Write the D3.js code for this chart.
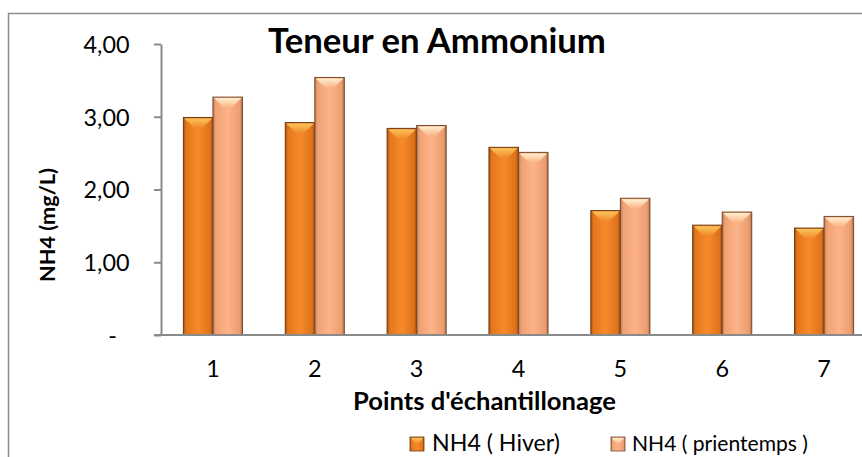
<!DOCTYPE html>
<html>
<head>
<meta charset="utf-8">
<script src="https://cdn.jsdelivr.net/npm/d3@7"></script>
<style>
  html, body { margin: 0; padding: 0; background: #fff; overflow: hidden; }
  svg { display: block; font-family: Lato, "Open Sans", sans-serif; }
</style>
</head>
<body>
<svg id="chart" width="862" height="457"></svg>
<script>
// ---- data ----
const categories = ["1", "2", "3", "4", "5", "6", "7"];
const hiver      = [2.99, 2.92, 2.84, 2.58, 1.71, 1.51, 1.47];
const printemps  = [3.27, 3.54, 2.88, 2.51, 1.88, 1.69, 1.63];
const seriesNames = ["NH4 ( Hiver)", "NH4 ( prientemps )"];
const yTicks = [0, 1, 2, 3, 4];
const titleText = "Teneur en Ammonium";
const xTitleText = "Points d'échantillonage";
const yTitleText = "NH4 (mg/L)";

const svg = d3.select("#chart");

// ---- gradients ----
const defs = svg.append("defs");
const palettes = [
  { id: "g0", stops: [["0%", "#a9520f"], ["9%", "#e4761c"], ["50%", "#f68a2a"], ["91%", "#de721b"], ["100%", "#9e4c0e"]],
    bevel: ["#fcc45a", "#f08526"], stroke: "#6e3a12" },
  { id: "g1", stops: [["0%", "#b77651"], ["9%", "#f0a173"], ["50%", "#fcb387"], ["91%", "#ec9d70"], ["100%", "#ad6f4c"]],
    bevel: ["#fff0d0", "#f9ae80"], stroke: "#7a4a2c" }
];
palettes.forEach(p => {
  const lg = defs.append("linearGradient").attr("id", p.id).attr("x1", 0).attr("x2", 1).attr("y1", 0).attr("y2", 0);
  p.stops.forEach(s => lg.append("stop").attr("offset", s[0]).attr("stop-color", s[1]));
  const bg = defs.append("linearGradient").attr("id", p.id + "b").attr("x1", 0).attr("x2", 0).attr("y1", 0).attr("y2", 1);
  bg.append("stop").attr("offset", "0%").attr("stop-color", p.bevel[0]);
  bg.append("stop").attr("offset", "100%").attr("stop-color", p.bevel[1]);
});

// ---- outer border ----
svg.append("rect").attr("x", 8.5).attr("y", 13.5).attr("width", 1000).attr("height", 1000)
  .attr("fill", "none").attr("stroke", "#8c8c8c").attr("stroke-width", 1.5);

// ---- scales ----
const x = d3.scaleBand().domain(categories).range([162, 875]).paddingInner(0.42).paddingOuter(0.21);
const xs = d3.scaleBand().domain([0, 1]).range([0, x.bandwidth()]);
const y = d3.scaleLinear().domain([0, 4]).range([335, 44]);

function fitFont(sel, target, start) {
  sel.style("font-size", start + "px");
  const w = sel.node().getComputedTextLength();
  sel.style("font-size", (start * target / w).toFixed(2) + "px");
}

// tick font size from "4,00" width
const probe = svg.append("text").text("4,00").style("font-size", "24px");
fitFont(probe, 46, 24);
const tickFont = probe.style("font-size");
probe.remove();

const fmt = v => v === 0 ? "-" : d3.format(".2f")(v).replace(".", ",");

// ---- y axis ----
const yAxis = svg.append("g").attr("transform", "translate(161,0)")
  .call(d3.axisLeft(y).tickValues(yTicks).tickFormat(fmt).tickSize(7).tickSizeOuter(0));
yAxis.select(".domain").attr("stroke", "#8a8a8a").attr("stroke-width", 2);
yAxis.selectAll(".tick line").attr("stroke", "#8a8a8a").attr("stroke-width", 2);
yAxis.selectAll(".tick text")
  .attr("x", d => d === 0 ? -44 : -31.5)
  .attr("dy", "0.36em")
  .style("font-size", tickFont).style("font-family", "Lato, sans-serif").attr("fill", "#000");

// ---- bars ----
const series = [hiver, printemps];
series.forEach((vals, si) => {
  const p = palettes[si];
  const g = svg.append("g");
  const bw = xs.bandwidth();
  g.selectAll("rect.bar").data(vals).join("rect")
    .attr("class", "bar")
    .attr("x", (d, i) => x(categories[i]) + xs(si))
    .attr("y", d => y(d))
    .attr("width", bw)
    .attr("height", d => y(0) - y(d))
    .attr("fill", `url(#${p.id})`)
    .attr("stroke", p.stroke).attr("stroke-width", 1);
  g.selectAll("polygon.bevel").data(vals).join("polygon")
    .attr("class", "bevel")
    .attr("points", (d, i) => {
      const x0 = x(categories[i]) + xs(si), y0 = y(d);
      return [[x0 + 1, y0 + 1], [x0 + bw - 1, y0 + 1], [x0 + bw * 0.62, y0 + 11], [x0 + bw * 0.38, y0 + 11]]
        .map(q => q.join(",")).join(" ");
    })
    .attr("fill", `url(#${p.id}b)`);
});

// ---- x axis ----
const xAxis = svg.append("g").attr("transform", "translate(0,335)")
  .call(d3.axisBottom(x).tickSize(0).tickSizeOuter(0));
xAxis.select(".domain").attr("d", "M154,0H870").attr("stroke", "#8a8a8a").attr("stroke-width", 2);
xAxis.selectAll(".tick text")
  .attr("y", 42).attr("dy", 0)
  .style("font-size", tickFont).style("font-family", "Lato, sans-serif").attr("fill", "#000");

// ---- titles ----
const title = svg.append("text").attr("x", 268).attr("y", 53)
  .attr("font-weight", "bold").attr("fill", "#000").text(titleText);
fitFont(title, 338, 34);

const xTitle = svg.append("text").attr("x", 353).attr("y", 410)
  .attr("font-weight", "bold").attr("fill", "#000").text(xTitleText);
fitFont(xTitle, 263, 22);

const yTitle = svg.append("text").attr("transform", "translate(55,225) rotate(-90)")
  .attr("text-anchor", "middle").attr("font-weight", "bold").attr("fill", "#000").text(yTitleText);
fitFont(yTitle, 114, 19);

// ---- legend ----
const legendItems = [
  { sx: 410, tx: 432, tw: 128 },
  { sx: 611, tx: 632, tw: 176 }
];
legendItems.forEach((it, i) => {
  const p = palettes[i];
  svg.append("rect").attr("x", it.sx).attr("y", 437).attr("width", 14).attr("height", 14)
    .attr("fill", `url(#${p.id})`).attr("stroke", p.stroke).attr("stroke-width", 0.8);
  svg.append("polygon")
    .attr("points", [[it.sx + 1, 438], [it.sx + 13, 438], [it.sx + 8.5, 444], [it.sx + 5.5, 444]].map(q => q.join(",")).join(" "))
    .attr("fill", `url(#${p.id}b)`);
  const t = svg.append("text").attr("x", it.tx).attr("y", 451).attr("fill", "#000").text(seriesNames[i]);
  fitFont(t, it.tw, 24);
});
</script>
</body>
</html>
